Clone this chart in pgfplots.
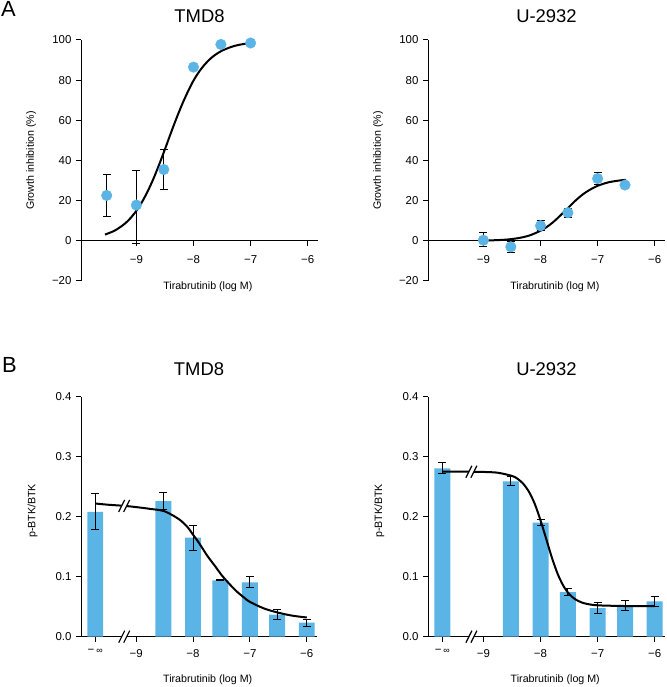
\documentclass[border=0pt]{standalone}
\usepackage{fontspec}
\setmainfont{Liberation Sans}
\usepackage{pgfplots}
\pgfplotsset{compat=1.18}
\definecolor{dotblue}{RGB}{90,180,230}

\pgfplotsset{
  common/.style={
    scale only axis, width=237bp, height=241bp,
    xmin=-9.97, xmax=-5.82,
    clip=false,
    axis line style={line width=1bp, black},
    every tick/.style={line width=1bp, black},
    major tick length=5bp,
    tick label style={font=\fontsize{11.5}{12}\selectfont},
    label style={font=\fontsize{10.7}{12}\selectfont},
    title style={font=\fontsize{18.5}{20}\selectfont, at={(axis description cs:0.5,1)}, anchor=base, yshift=12bp},
    xtick align=outside, ytick align=outside,
    axis y line*=left,
    yticklabel style={xshift=-1bp},
    errbar/.style={draw=none, mark=none, forget plot,
      error bars/.cd, y dir=both, y explicit,
      error bar style={line width=1bp, black},
      error mark options={rotate=90, mark size=4bp, line width=1bp, black}},
  },
  panelA/.style={common,
    ymin=-20, ymax=100,
    ytick={-20,0,20,40,60,80,100},
    yticklabels={−20,0,20,40,60,80,100},
    xtick={-9,-8,-7,-6},
    xticklabels={−9,−8,−7,−6},
    axis x line*=middle,
    xticklabel style={yshift=-6bp},
    ylabel={Growth inhibition (\%)},
    ylabel style={at={(axis description cs:-0.211,0.5)}, anchor=center},
    xlabel={Tirabrutinib (log M)},
    xlabel style={at={(axis description cs:0.535,0)}, anchor=center, yshift=-5.7bp},
  },
  panelB/.style={common, height=240bp,
    ymin=0, ymax=0.4,
    ytick={0,0.1,0.2,0.3,0.4},
    yticklabels={0.0,0.1,0.2,0.3,0.4},
    xtick={-9.72,-9,-8,-7,-6},
    xticklabels={−\,{\fontsize{9}{10}\selectfont∞},−9,−8,−7,−6},
    axis x line*=bottom,
    xticklabel style={yshift=-4bp},
    ylabel={p-BTK/BTK},
    ylabel style={at={(axis description cs:-0.205,0.524)}, anchor=center},
    xlabel={Tirabrutinib (log M)},
    xlabel style={at={(axis description cs:0.537,0)}, anchor=center, yshift=-43.3bp},
    title style={yshift=3.7bp},
  },
}

\newcommand{\brk}[2]{%
  \fill[white] ([xshift=-5.5bp,yshift=-6bp]axis cs:#1,#2) -- ([xshift=0.5bp,yshift=6bp]axis cs:#1,#2) -- ([xshift=5.5bp,yshift=6bp]axis cs:#1,#2) -- ([xshift=-0.5bp,yshift=-6bp]axis cs:#1,#2) -- cycle;
  \draw[line width=1.2bp] ([xshift=-5.5bp,yshift=-6bp]axis cs:#1,#2) -- ([xshift=0.5bp,yshift=6bp]axis cs:#1,#2);
  \draw[line width=1.2bp] ([xshift=-0.5bp,yshift=-6bp]axis cs:#1,#2) -- ([xshift=5.5bp,yshift=6bp]axis cs:#1,#2);
}

\begin{document}
\begin{tikzpicture}
\useasboundingbox (0bp,0bp) rectangle (667bp,687bp);
\node[anchor=north west, inner sep=0pt, font=\fontsize{22}{24}\selectfont] at (1bp,686bp) {A};
\node[anchor=north west, inner sep=0pt, font=\fontsize{22}{24}\selectfont] at (2bp,330bp) {B};

% ---------- A left: TMD8 ----------
\begin{axis}[panelA, at={(81bp,406bp)}, anchor=south west, title={TMD8}]
\addplot[errbar] coordinates {
 (-9.52,22.6) +- (0,10.3)
 (-9.0,17.8) += (0,17.2) -= (0,19.1)
 (-8.52,35.5) +- (0,9.9)
};
\addplot[only marks, mark=*, mark size=5.3bp, dotblue] coordinates {
 (-9.52,22.6) (-9.0,17.8) (-8.52,35.5) (-8.0,86.5) (-7.52,97.8) (-7.0,98.5)
};
\addplot[smooth, black, line width=2bp] coordinates {
 (-9.55,3.1) (-9.4,4.8) (-9.3,6.5) (-9.2,8.6) (-9.1,11.4) (-9.0,15.0)
 (-8.9,19.4) (-8.8,24.8) (-8.7,31.0) (-8.6,38.1) (-8.5,45.6) (-8.4,53.4)
 (-8.3,60.9) (-8.2,67.9) (-8.1,74.2) (-8.0,79.8) (-7.9,84.3) (-7.8,87.9)
 (-7.7,90.8) (-7.6,93.0) (-7.5,94.7) (-7.4,95.9) (-7.3,96.9) (-7.2,97.6)
 (-7.1,98.1) (-7.0,98.5)
};
\end{axis}

% ---------- A right: U-2932 ----------
\begin{axis}[panelA, at={(428bp,406bp)}, anchor=south west, title={U-2932}]
\addplot[errbar] coordinates {
 (-9.0,0.3) += (0,3.8) -= (0,3.3)
 (-8.52,-3.0) +- (0,2.6)
 (-8.0,7.5) +- (0,2.5)
 (-7.52,14.0) +- (0,2.3)
 (-7.0,31.0) +- (0,3.2)
 (-6.52,27.8) +- (0,1.7)
};
\addplot[only marks, mark=*, mark size=5.3bp, dotblue] coordinates {
 (-9.0,0.3) (-8.52,-3.0) (-8.0,7.5) (-7.52,14.0) (-7.0,31.0) (-6.52,27.8)
};
\addplot[smooth, black, line width=2bp] coordinates {
 (-9.0,0.15) (-8.8,0.3) (-8.6,0.6) (-8.4,1.3) (-8.2,2.6) (-8.0,5.0)
 (-7.9,6.7) (-7.8,8.8) (-7.7,11.3) (-7.6,14.1) (-7.5,16.9) (-7.4,19.7)
 (-7.3,22.2) (-7.2,24.3) (-7.1,26.0) (-7.0,27.4) (-6.9,28.4) (-6.8,29.2)
 (-6.7,29.7) (-6.6,30.1) (-6.5,30.4)
};
\end{axis}

% ---------- B left: TMD8 ----------
\begin{axis}[panelB, at={(81bp,50.3bp)}, anchor=south west, width=236bp, title={TMD8}]
\addplot[ybar, bar width=0.28, bar shift=0pt, fill=dotblue, draw=none] coordinates {
 (-9.72,0.208) (-8.52,0.226) (-8.0,0.165) (-7.52,0.094) (-7.0,0.0906) (-6.52,0.0367) (-6.0,0.0233)
};
\addplot[errbar] coordinates {
 (-9.72,0.208) +- (0,0.030)
 (-8.52,0.226) +- (0,0.014)
 (-8.0,0.165) +- (0,0.021)
 (-7.52,0.094) +- (0,0.001)
 (-7.0,0.0906) +- (0,0.009)
 (-6.52,0.0367) +- (0,0.008)
 (-6.0,0.0233) +- (0,0.0055)
};
\addplot[smooth, black, line width=2bp] coordinates {
 (-9.72,0.222) (-9.5,0.220) (-9.2,0.218) (-9.0,0.216) (-8.75,0.213)
 (-8.5,0.209) (-8.25,0.196) (-8.1,0.183) (-8.0,0.170) (-7.9,0.157)
 (-7.75,0.135) (-7.6,0.116) (-7.5,0.103) (-7.4,0.092) (-7.25,0.077)
 (-7.1,0.065) (-7.0,0.058) (-6.75,0.047) (-6.5,0.040) (-6.25,0.035) (-6.0,0.032)
};
\brk{-9.21}{0}
\brk{-9.21}{0.218}
\end{axis}

% ---------- B right: U-2932 ----------
\begin{axis}[panelB, at={(428bp,50.3bp)}, anchor=south west, title={U-2932}]
\addplot[ybar, bar width=0.28, bar shift=0pt, fill=dotblue, draw=none] coordinates {
 (-9.72,0.2806) (-8.52,0.259) (-8.0,0.190) (-7.52,0.0744) (-7.0,0.0478) (-6.52,0.0517) (-6.0,0.0589)
};
\addplot[errbar] coordinates {
 (-9.72,0.2806) +- (0,0.009)
 (-8.52,0.259) +- (0,0.0075)
 (-8.0,0.190) +- (0,0.0055)
 (-7.52,0.0744) +- (0,0.006)
 (-7.0,0.0478) +- (0,0.0085)
 (-6.52,0.0517) +- (0,0.008)
 (-6.0,0.0589) +- (0,0.0083)
};
\addplot[smooth, black, line width=2bp] coordinates {
 (-9.72,0.275) (-9.2,0.2749) (-9.0,0.2746) (-8.75,0.2733) (-8.5,0.268)
 (-8.4,0.2631) (-8.3,0.2546) (-8.2,0.2412) (-8.1,0.2212) (-8.0,0.194)
 (-7.9,0.163) (-7.8,0.1316) (-7.7,0.1048) (-7.6,0.0848) (-7.5,0.0714)
 (-7.4,0.0629) (-7.3,0.0579) (-7.2,0.0549) (-7.0,0.0523) (-6.5,0.0511) (-6.0,0.051)
};
\brk{-9.21}{0}
\brk{-9.21}{0.2749}
\end{axis}
\end{tikzpicture}
\end{document}
